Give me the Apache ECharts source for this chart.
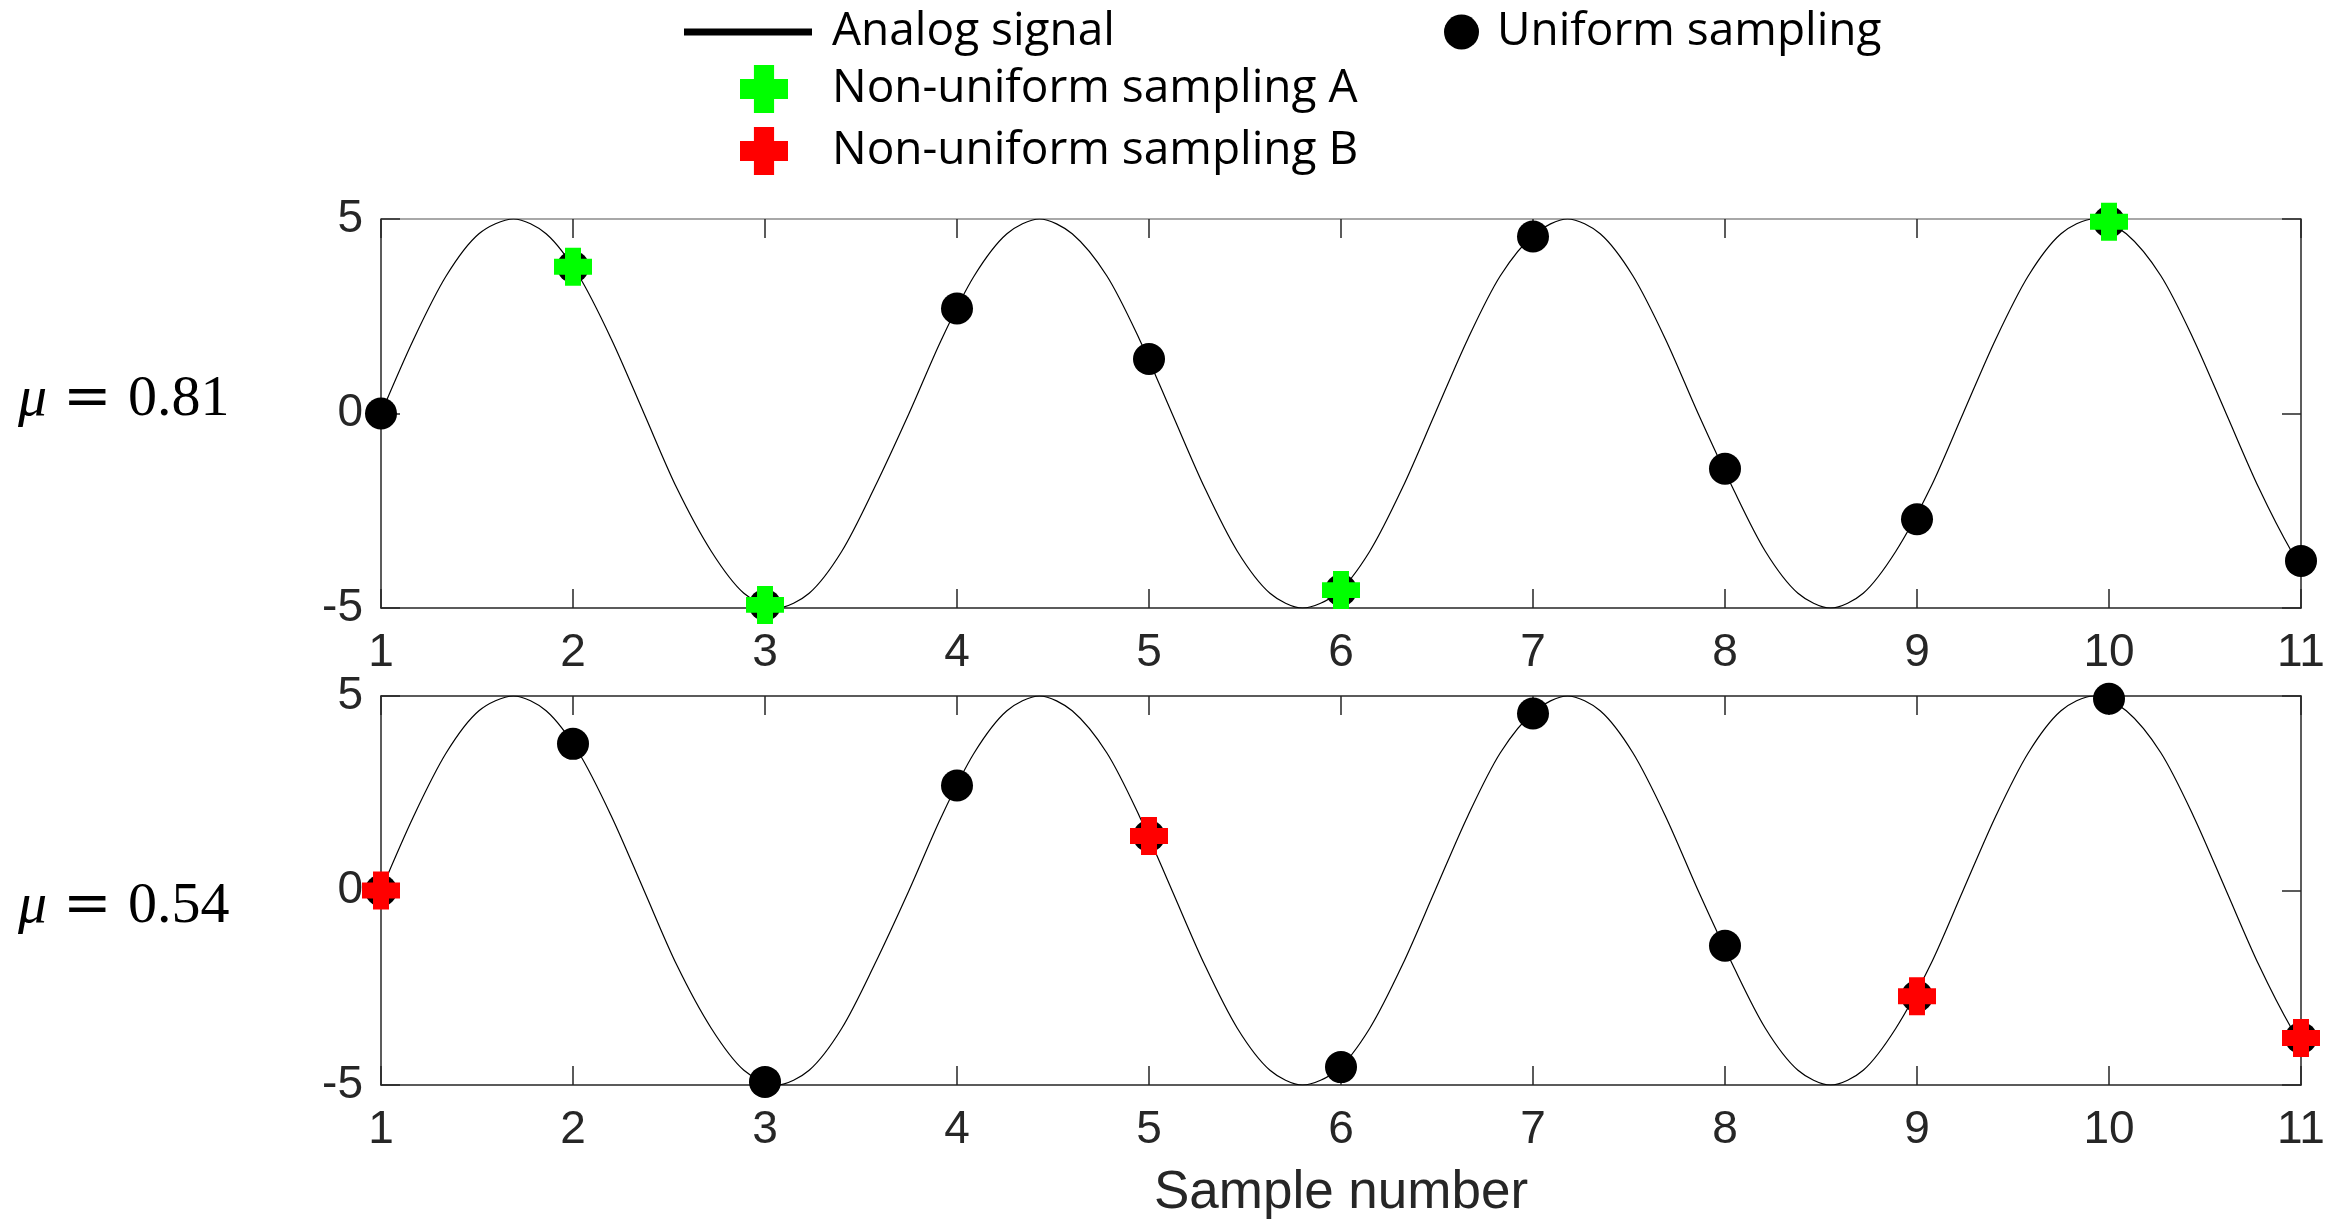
<!DOCTYPE html>
<html>
<head>
<meta charset="utf-8">
<script src="https://cdn.jsdelivr.net/npm/echarts@6/dist/echarts.min.js"></script>
<style>
  html, body { margin: 0; padding: 0; background: #fff; }
  #chart { width: 2331px; height: 1222px; }
</style>
</head>
<body>
<div id="chart"></div>
<script>
const sampleNo = [1, 2, 3, 4, 5, 6, 7, 8, 9, 10, 11];
const uniformVals = [0, 3.77, -4.92, 2.70, 1.40, -4.54, 4.55, -1.42, -2.72, 4.93, -3.79];

// which samples are kept by the non-uniform schemes
const pickA = [2, 3, 6, 10];
const pickB = [1, 5, 9, 11];

// analog signal, points
const analogX = [1.00, 1.17, 1.34, 1.51, 1.69, 1.86, 2.03, 2.20, 2.37, 2.54, 2.72, 2.89, 3.06, 3.23, 3.40, 3.57,
  3.75, 3.92, 4.09, 4.26, 4.43, 4.60, 4.78, 4.95, 5.12, 5.29, 5.46, 5.63, 5.80, 5.98, 6.15, 6.32,
  6.49, 6.66, 6.83, 7.01, 7.18, 7.35, 7.52, 7.69, 7.86, 8.04, 8.21, 8.38, 8.55, 8.72, 8.89, 9.07,
  9.24, 9.41, 9.58, 9.75, 9.92, 10.09, 10.27, 10.44, 10.61, 10.78, 10.95, 11.00];
const analogY = [0, 1.91, 3.54, 4.62, 5, 4.62, 3.54, 1.91, 0, -1.91, -3.54, -4.62, -5, -4.62, -3.54, -1.91,
  0, 1.91, 3.54, 4.62, 5, 4.62, 3.54, 1.91, 0, -1.91, -3.54, -4.62, -5, -4.62, -3.54, -1.91,
  0, 1.91, 3.54, 4.62, 5, 4.62, 3.54, 1.91, 0, -1.91, -3.54, -4.62, -5, -4.62, -3.54, -1.91,
  0, 1.91, 3.54, 4.62, 5, 4.62, 3.54, 1.91, 0, -1.91, -3.54, -3.79];

const yTicks = [-5, 0, 5];
const panelLabels = ['0.81', '0.54'];

const crossPath = 'path://M2.9,0H7.1V2.9H10V7.1H7.1V10H2.9V7.1H0V2.9H2.9Z';
const axisColor = '#262626';
const tickFont = 'Liberation Sans, Arial, sans-serif';
const legendFont = 'Open Sans, Noto Sans, sans-serif';
const serif = 'Liberation Serif, Times New Roman, serif';

const analogData = analogX.map((x, i) => [x, analogY[i]]);
const uniformData = sampleNo.map((n, i) => [n, uniformVals[i]]);
const pickData = idx => idx.map(n => [n, uniformVals[sampleNo.indexOf(n)]]);

function bottomAxis(grid, withName) {
  const ax = {
    type: 'value', gridIndex: grid, position: 'bottom',
    min: sampleNo[0], max: sampleNo[sampleNo.length - 1], interval: 1,
    splitLine: { show: false },
    axisLine: { onZero: false, lineStyle: { color: axisColor, width: 1.5 } },
    axisTick: { inside: true, length: 19, lineStyle: { color: axisColor, width: 1.5 } },
    axisLabel: { margin: 22, fontSize: 46, fontFamily: tickFont, color: axisColor }
  };
  if (withName) {
    ax.name = 'Sample number';
    ax.nameLocation = 'middle';
    ax.nameGap = 82;
    ax.nameTextStyle = { fontSize: 53, fontFamily: tickFont, color: axisColor };
  }
  return ax;
}

function topAxis(grid, lineColor) {
  return {
    type: 'value', gridIndex: grid, position: 'top',
    min: sampleNo[0], max: sampleNo[sampleNo.length - 1], interval: 1,
    splitLine: { show: false },
    axisLine: { onZero: false, lineStyle: { color: lineColor, width: 1.5 } },
    axisTick: { inside: true, length: 19, lineStyle: { color: axisColor, width: 1.5 } },
    axisLabel: { show: false }
  };
}

function sideAxis(grid, pos) {
  return {
    type: 'value', gridIndex: grid, position: pos,
    min: yTicks[0], max: yTicks[yTicks.length - 1], interval: 5,
    splitLine: { show: false },
    axisLine: { onZero: false, lineStyle: { color: axisColor, width: 1.5 } },
    axisTick: { inside: true, length: 19, lineStyle: { color: axisColor, width: 1.5 } },
    axisLabel: pos === 'left'
      ? { margin: 18, fontSize: 46, fontFamily: tickFont, color: axisColor }
      : { show: false }
  };
}

function panelSeries(grid, pick, name, color) {
  return [
    {
      name: 'Analog signal', type: 'line', xAxisIndex: grid * 2, yAxisIndex: grid * 2,
      data: analogData, smooth: 0.3, showSymbol: false, silent: true,
      lineStyle: { color: '#000', width: 1.2 }, itemStyle: { color: '#000' }, z: 2
    },
    {
      name: 'Uniform sampling', type: 'scatter', xAxisIndex: grid * 2, yAxisIndex: grid * 2,
      data: uniformData, symbol: 'circle', symbolSize: 32,
      itemStyle: { color: '#000', opacity: 1 }, z: 3
    },
    {
      name: name, type: 'scatter', xAxisIndex: grid * 2, yAxisIndex: grid * 2,
      data: pickData(pick), symbol: crossPath, symbolSize: 38,
      itemStyle: { color: color, opacity: 1 }, z: 4
    }
  ];
}

function muLabel(y, value) {
  return [
    { type: 'text', x: 18, y: y, style: { text: 'μ', font: 'italic 58px ' + serif, fill: '#000', verticalAlign: 'middle' } },
    { type: 'text', x: 63, y: y, style: { text: '=', font: '58px DejaVu Serif, serif', fill: '#000', verticalAlign: 'middle' } },
    { type: 'text', x: 128, y: y, style: { text: value, font: '58px ' + serif, fill: '#000', verticalAlign: 'middle' } }
  ];
}

const legendText = { fontFamily: legendFont, fontSize: 46, color: '#000' };

const option = {
  animation: false,
  backgroundColor: '#fff',
  grid: [
    { left: 381, right: 30, top: 219, height: 389 },
    { left: 381, right: 30, top: 696, height: 389 }
  ],
  xAxis: [
    bottomAxis(0, false), topAxis(0, '#8c8c8c'),
    bottomAxis(1, true), topAxis(1, axisColor)
  ],
  yAxis: [
    sideAxis(0, 'left'), sideAxis(0, 'right'),
    sideAxis(1, 'left'), sideAxis(1, 'right')
  ],
  legend: [
    {
      left: 684, top: 9, padding: 0, selectedMode: false,
      itemWidth: 128, itemHeight: 7,
      data: [{ name: 'Analog signal', icon: 'rect' }],
      textStyle: Object.assign({ padding: [0, 0, 0, 15] }, legendText)
    },
    {
      left: 740, top: 65, padding: 0, orient: 'vertical', selectedMode: false,
      itemWidth: 48, itemHeight: 48, itemGap: 14,
      data: [
        { name: 'Non-uniform sampling A', icon: crossPath },
        { name: 'Non-uniform sampling B', icon: crossPath }
      ],
      textStyle: Object.assign({ padding: [0, 0, 0, 39] }, legendText)
    },
    {
      left: 1444, top: 9, padding: 0, selectedMode: false,
      itemWidth: 35, itemHeight: 35,
      data: [{ name: 'Uniform sampling', icon: 'circle' }],
      textStyle: Object.assign({ padding: [0, 0, 0, 13] }, legendText)
    }
  ],
  graphic: muLabel(400, panelLabels[0]).concat(muLabel(907, panelLabels[1])),
  series: panelSeries(0, pickA, 'Non-uniform sampling A', '#00ff00')
    .concat(panelSeries(1, pickB, 'Non-uniform sampling B', '#ff0000'))
};

const chart = echarts.init(document.getElementById('chart'), null, { renderer: 'canvas' });
chart.setOption(option);
</script>
</body>
</html>
